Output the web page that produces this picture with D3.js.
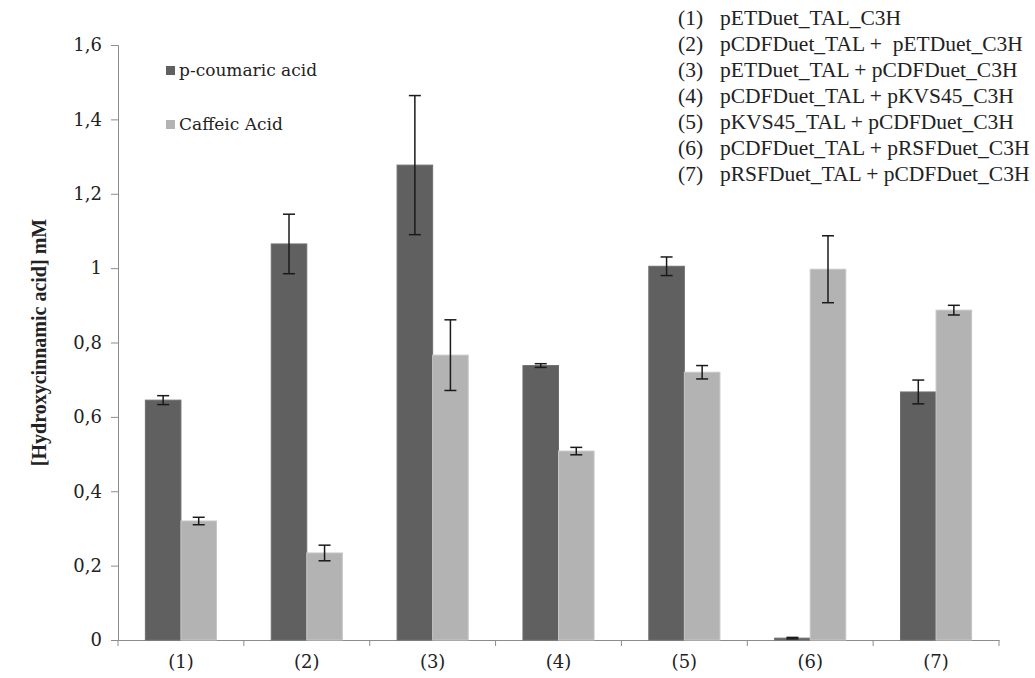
<!DOCTYPE html>
<html>
<head>
<meta charset="utf-8">
<script src="https://cdn.jsdelivr.net/npm/d3@7"></script>
<style>
  body { margin: 0; background: #fff; }
  text { font-family: "Liberation Serif", "Times New Roman", serif; }
  .cambria { font-family: "DejaVu Serif", serif; }
</style>
</head>
<body>
<div id="chart"></div>
<script>
// data
var categories = ["(1)", "(2)", "(3)", "(4)", "(5)", "(6)", "(7)"];
var series = ["p-coumaric acid", "Caffeic Acid"];
var coumaric = [0.645, 1.065, 1.277, 0.738, 1.005, 0.005, 0.667];
var coumaricErr = [0.012, 0.08, 0.187, 0.005, 0.025, 0.002, 0.032];
var caffeic = [0.32, 0.234, 0.766, 0.508, 0.72, 0.997, 0.887];
var caffeicErr = [0.01, 0.021, 0.095, 0.01, 0.018, 0.09, 0.013];
var yTicks = [0, 0.2, 0.4, 0.6, 0.8, 1, 1.2, 1.4, 1.6];
var constructs = [
  "pETDuet_TAL_C3H",
  "pCDFDuet_TAL +  pETDuet_C3H",
  "pETDuet_TAL + pCDFDuet_C3H",
  "pCDFDuet_TAL + pKVS45_C3H",
  "pKVS45_TAL + pCDFDuet_C3H",
  "pCDFDuet_TAL + pRSFDuet_C3H",
  "pRSFDuet_TAL + pCDFDuet_C3H"
];

var W = 1035, H = 678;
var margin = { top: 45, right: 36, bottom: 38, left: 118 };
var width = W - margin.left - margin.right;
var height = H - margin.top - margin.bottom;
var colorsFill = ["#606060", "#b3b3b3"];
var colorsStroke = ["#6e6e6e", "#c6c6c6"];

var locale = d3.formatLocale({ decimal: ",", thousands: ".", grouping: [3], currency: ["", ""] });
var fmt = locale.format("~g");

var svg = d3.select("#chart").append("svg")
  .attr("width", W).attr("height", H);
var g = svg.append("g").attr("transform", `translate(${margin.left},${margin.top})`);

var x0 = d3.scaleBand().domain(categories).range([0, width]).paddingInner(0.435).paddingOuter(0.2175);
var x1 = d3.scaleBand().domain(series).range([0, x0.bandwidth()]);
var y = d3.scaleLinear().domain([0, 1.6]).range([height, 0]);

var rows = categories.map((c, i) => ({
  cat: c,
  vals: [
    { s: series[0], v: coumaric[i], e: coumaricErr[i], k: 0 },
    { s: series[1], v: caffeic[i], e: caffeicErr[i], k: 1 }
  ]
}));

// axes
var yAxis = g.append("g").call(d3.axisLeft(y).tickValues(yTicks).tickFormat(fmt).tickSizeOuter(0).tickSize(7).tickPadding(9));
var xAxis = g.append("g").attr("transform", `translate(0,${height})`)
  .call(d3.axisBottom(x0).tickSize(0).tickPadding(15));
// x ticks sit on the category boundaries
var xb = d3.range(categories.length + 1).map(i => i * width / categories.length);
xAxis.selectAll(".bound").data(xb).enter().append("line")
  .attr("class", "bound").attr("x1", d => d).attr("x2", d => d)
  .attr("y1", 0).attr("y2", 6);

[yAxis, xAxis].forEach(a => {
  a.attr("font-family", null).attr("font-size", null);
  a.select(".domain").attr("stroke", "#8c8c8c");
  a.selectAll("line").attr("stroke", "#8c8c8c");
  a.selectAll("text").attr("class", "cambria").attr("fill", "#222").style("font-size", "18px");
});

// bars
var grp = g.append("g").selectAll("g").data(rows).enter().append("g")
  .attr("transform", d => `translate(${x0(d.cat)},0)`);
grp.selectAll("rect").data(d => d.vals).enter().append("rect")
  .attr("x", d => x1(d.s)).attr("width", x1.bandwidth())
  .attr("y", d => y(d.v)).attr("height", d => height - y(d.v))
  .attr("fill", d => colorsFill[d.k]).attr("stroke", d => colorsStroke[d.k]).attr("stroke-width", 1);

// error bars
var eb = grp.selectAll("g.err").data(d => d.vals).enter().append("g").attr("class", "err")
  .attr("stroke", "#1a1a1a").attr("stroke-width", 1.5);
var cx = d => x1(d.s) + x1.bandwidth() / 2;
eb.append("line").attr("x1", cx).attr("x2", cx).attr("y1", d => y(d.v + d.e)).attr("y2", d => y(d.v - d.e));
eb.append("line").attr("x1", d => cx(d) - 6).attr("x2", d => cx(d) + 6).attr("y1", d => y(d.v + d.e)).attr("y2", d => y(d.v + d.e));
eb.append("line").attr("x1", d => cx(d) - 6).attr("x2", d => cx(d) + 6).attr("y1", d => y(d.v - d.e)).attr("y2", d => y(d.v - d.e));

// y title
svg.append("text")
  .attr("transform", `translate(46,${margin.top + height / 2}) rotate(-90)`)
  .attr("text-anchor", "middle").style("font-size", "20px").style("font-weight", "bold")
  .attr("fill", "#222").text("[Hydroxycinnamic acid] mM");

// legend
var leg = svg.append("g").selectAll("g").data(series).enter().append("g")
  .attr("transform", (d, i) => `translate(166,${70 + i * 54})`);
leg.append("rect").attr("x", 0).attr("y", -4).attr("width", 9).attr("height", 9)
  .attr("fill", (d, i) => colorsFill[i]);
leg.append("text").attr("class", "cambria").attr("x", 13).attr("y", 6)
  .style("font-size", "17px").attr("fill", "#222").text(d => d);

// construct list
var list = svg.append("g").selectAll("g").data(constructs).enter().append("g")
  .attr("transform", (d, i) => `translate(678,${25 + i * 26})`);
list.append("text").style("font-size", "21.5px").attr("fill", "#222").text((d, i) => categories[i]);
list.append("text").attr("x", 42).style("font-size", "21.5px").attr("fill", "#222")
  .style("white-space", "pre").text(d => d);
</script>
</body>
</html>
